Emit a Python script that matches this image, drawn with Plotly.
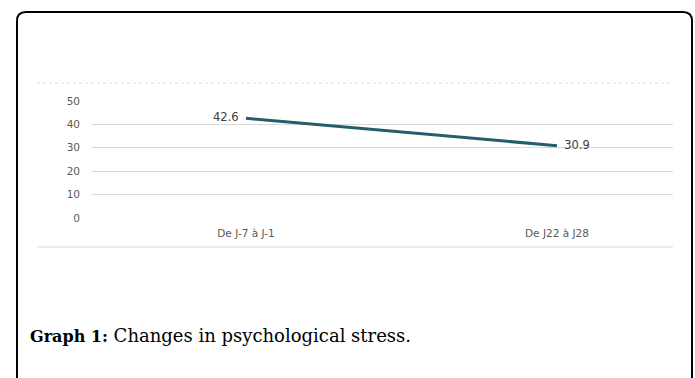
import plotly.graph_objects as go

categories = ["De J-7 à J-1", "De J22 à J28"]
values = [42.6, 30.9]
y_ticks = [0, 10, 20, 30, 40, 50]
caption_bold = "Graph 1:"
caption_text = "Changes in psychological stress."

W, H = 695, 378
L, R, T, B = 92, 22, 101, 160
PW, PH = W - L - R, H - T - B


def px(x):
    return (x - L) / PW


def py(y):
    return (H - B - y) / PH


xs = list(range(len(categories)))

fig = go.Figure()
fig.add_trace(go.Scatter(
    x=xs, y=values, mode="lines+text",
    line=dict(color="#245d6c", width=3),
    text=[f"{values[0]:.1f}  ", f"  {values[1]:.1f}"],
    textposition=["middle left", "middle right"],
    textfont=dict(family="DejaVu Sans", size=11.5, color="#404040"),
    hoverinfo="skip", showlegend=False,
))

# rounded frame
x0, x1, y0, y1, r = 17, 692, 12, 395, 9
path = (f"M {px(x0)},{py(y1)} L {px(x0)},{py(y0 + r)} "
        f"Q {px(x0)},{py(y0)} {px(x0 + r)},{py(y0)} "
        f"L {px(x1 - r)},{py(y0)} Q {px(x1)},{py(y0)} {px(x1)},{py(y0 + r)} "
        f"L {px(x1)},{py(y1)}")
shapes = [
    dict(type="path", xref="paper", yref="paper", path=path,
         line=dict(color="#000000", width=2)),
    dict(type="line", xref="paper", yref="paper", x0=px(37), x1=px(673),
         y0=py(83), y1=py(83), line=dict(color="#dcdcdc", width=1, dash="dot")),
    dict(type="line", xref="paper", yref="paper", x0=px(37), x1=px(673),
         y0=py(247), y1=py(247), line=dict(color="#d9d9d9", width=1)),
]

fig.update_layout(
    width=W, height=H,
    margin=dict(l=L, r=R, t=T, b=B),
    paper_bgcolor="white", plot_bgcolor="white",
    shapes=shapes,
    xaxis=dict(
        range=[-0.495, 1.373], tickvals=xs, ticktext=categories,
        showgrid=False, zeroline=False, showline=False,
        tickfont=dict(family="DejaVu Sans", size=10.5, color="#595959"),
        ticks="", ticklabelstandoff=7,
    ),
    yaxis=dict(
        range=[0, 50], tickvals=y_ticks,
        showgrid=True, gridcolor="#d9d9d9", gridwidth=1,
        zeroline=True, zerolinecolor="rgba(0,0,0,0)", showline=False,
        tickfont=dict(family="DejaVu Sans", size=10.5, color="#595959"),
        ticks="", ticklabelstandoff=11,
    ),
    annotations=[dict(
        xref="paper", yref="paper", x=px(28), y=py(335),
        xanchor="left", yanchor="middle", showarrow=False,
        text=(f"<b><span style='font-size:16px'>{caption_bold}</span></b> "
              f"{caption_text}"),
        font=dict(family="DejaVu Serif", size=18, color="#000000"),
    )],
)

fig.write_html("out.html")
